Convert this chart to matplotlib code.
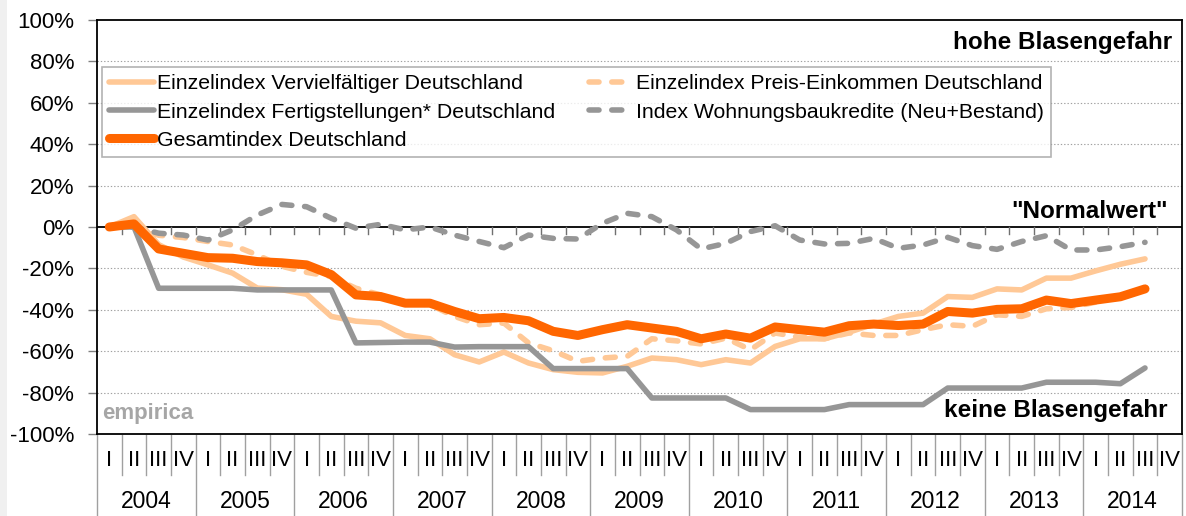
import matplotlib
matplotlib.use("Agg")
import matplotlib.pyplot as plt
import matplotlib.transforms as mtransforms
from matplotlib.patches import Rectangle

plt.rcParams['font.family'] = ['Liberation Sans', 'DejaVu Sans']

# ---------------- data ----------------
years = ["2004", "2005", "2006", "2007", "2008", "2009", "2010", "2011", "2012", "2013", "2014"]
quarter_labels = ["I", "II", "III", "IV"]

vervielfaeltiger = [0, 5, -8.5, -14.5, -18.3, -22.3, -29.5, -30.3, -32.5, -43.2, -45.5, -46.3,
                    -52.4, -54, -61.7, -65.2, -60.4, -65.7, -68.9, -70.2, -70.5, -67.3, -63.3,
                    -64.1, -66.5, -64.1, -65.7, -57.7, -54, -54, -50.8, -46.9, -43.2, -41.6,
                    -33.6, -34, -29.9, -30.4, -24.7, -24.7, -21.2, -18, -15.4]
preis_einkommen = [0, 1, -4, -5.1, -7, -8.7, -13.5, -19, -21.9, -24, -29.6, -32.8, -36.8, -37.5,
                   -43.2, -47.2, -46.4, -56, -59.8, -64.9, -63.3, -62.5, -54, -55, -56.5, -53.7,
                   -59.3, -51.2, -53.3, -54, -51.2, -52.4, -52.4, -49.6, -47.2, -48, -42.4,
                   -43.2, -39.5, -38.9, -36.3, -32.8, -30.4]
fertigstellungen = [0, 0, -29.6, -29.6, -29.6, -29.6, -30.4, -30.4, -30.4, -30.4, -56, -55.8,
                    -55.6, -55.6, -58, -57.8, -57.8, -57.8, -68.4, -68.4, -68.4, -68.4, -82.6,
                    -82.6, -82.6, -82.6, -88.2, -88.2, -88.2, -88.2, -85.8, -85.8, -85.8, -85.8,
                    -77.8, -77.8, -77.8, -77.8, -75, -75, -75, -75.7, -68.1]
wohnungsbaukredite = [0, 0, -3, -3.9, -6.3, -1.4, 5.8, 10.9, 9.8, 4.2, -0.6, 1.3, -1.4, 0, -3.9,
                      -7, -10, -3.9, -5.5, -5.8, 1.8, 6.6, 5, -1.4, -10.6, -7.9, -2.2, 0.6, -6.3,
                      -8.2, -7.9, -5.5, -10.3, -8.7, -5, -9, -10.8, -7, -4.2, -11.1, -11.1, -9.5,
                      -7.4]
gesamtindex = [0, 1.5, -10.6, -12.7, -14.8, -15.1, -16.7, -17.3, -18.3, -23, -32.8, -33.6, -36.8,
               -36.8, -40.8, -44.3, -43.7, -45.3, -50.4, -52.4, -49.6, -47.2, -48.8, -50.4, -54,
               -51.7, -53.7, -48.3, -49.6, -50.8, -47.7, -46.9, -47.6, -46.9, -40.8, -41.6,
               -39.8, -39.5, -35.3, -37, -35.3, -33.7, -29.9]

labels = ["Einzelindex Vervielfältiger Deutschland",
          "Einzelindex Preis-Einkommen Deutschland",
          "Einzelindex Fertigstellungen* Deutschland",
          "Index Wohnungsbaukredite (Neu+Bestand)",
          "Gesamtindex Deutschland"]
yticks = [-100, -80, -60, -40, -20, 0, 20, 40, 60, 80, 100]

# ---------------- figure ----------------
W, H = 1186, 516
fig = plt.figure(figsize=(W / 100, H / 100), dpi=100)
fig.patch.set_facecolor("white")
fig.add_artist(Rectangle((0, 0), 7 / W, 1, transform=fig.transFigure,
                         facecolor="#F0F0F0", edgecolor="none", zorder=0))

left, right, top, bottom = 97, 1182, 20, 434
ax = fig.add_axes([left / W, 1 - bottom / H, (right - left) / W, (bottom - top) / H])

n_q = len(years) * 4
x = list(range(len(gesamtindex)))

light = "#FFC896"
grey = "#969696"
orange = "#FF6600"

l1, = ax.plot(x, vervielfaeltiger, color=light, lw=4.0, solid_capstyle="round",
              solid_joinstyle="round", zorder=3)
l2, = ax.plot(x, preis_einkommen, color=light, lw=4.0, dashes=(1.8, 2.3),
              dash_capstyle="round", dash_joinstyle="round", zorder=3)
l3, = ax.plot(x, fertigstellungen, color=grey, lw=4.0, solid_capstyle="round",
              solid_joinstyle="round", zorder=3)
l4, = ax.plot(x, wohnungsbaukredite, color=grey, lw=4.0, dashes=(1.8, 2.3),
              dash_capstyle="round", dash_joinstyle="round", zorder=3)
l5, = ax.plot(x, gesamtindex, color=orange, lw=6.5, solid_capstyle="round",
              solid_joinstyle="round", zorder=4)

ax.set_xlim(-0.5, n_q - 0.5)
ax.set_ylim(-100, 100)

# gridlines
for v in yticks[1:-1]:
    if v == 0:
        continue
    ax.axhline(v, color="#A0A0A0", lw=0.8, linestyle=(0, (1.2, 1.8)), zorder=1)
ax.axhline(0, color="black", lw=1.3, zorder=2)
# tick marks at zero line
for k in range(1, n_q):
    ax.plot([k - 0.5, k - 0.5], [0, -3.3], color="#707070", lw=1.0, zorder=2)

for sp in ax.spines.values():
    sp.set_color("black")
    sp.set_linewidth(1.3)

ax.set_yticks(yticks)
ax.set_yticklabels([f"{v}%" for v in yticks], fontsize=16)
ax.tick_params(axis="y", direction="out", length=6.5, width=1.0, color="#808080", pad=10)
ax.set_xticks([])

# category table below axes
trans = mtransforms.blended_transform_factory(ax.transData, ax.transAxes)
ax_h = bottom - top
def ay(py):
    return (bottom - py) / ax_h

for k in range(n_q + 1):
    xb = k - 0.5
    if k % 4 == 0:
        ax.plot([xb, xb], [ay(435), ay(H)], color="#A0A0A0", lw=1.0, transform=trans, clip_on=False)
    else:
        ax.plot([xb, xb], [ay(435), ay(475)], color="#A0A0A0", lw=1.0, transform=trans, clip_on=False)
for k in range(n_q):
    ax.text(k, ay(461), quarter_labels[k % 4], transform=trans, ha="center", va="center",
            fontsize=16, clip_on=False)
for j, yr in enumerate(years):
    ax.text(j * 4 + 1.5, ay(502), yr, transform=trans, ha="center", va="center",
            fontsize=16.5, clip_on=False)

# annotations
ax.text((1172 - left) / (right - left), ay(42), "hohe Blasengefahr", transform=ax.transAxes,
        ha="right", va="center", fontsize=17.5, fontweight="bold")
ax.text((1168 - left) / (right - left), ay(211), "\"Normalwert\"", transform=ax.transAxes,
        ha="right", va="center", fontsize=17.5, fontweight="bold")
ax.text((1168 - left) / (right - left), ay(410), "keine Blasengefahr", transform=ax.transAxes,
        ha="right", va="center", fontsize=17.5, fontweight="bold", zorder=5)
ax.text((102 - left) / (right - left), ay(414), "empirica", transform=ax.transAxes,
        ha="left", va="center", fontsize=16, fontweight="bold", color="#A6A6A6")

# legend (row-major order via column-major fill)
handles = [l1, l3, l5, l2, l4]
leg_labels = [labels[0], labels[2], labels[4], labels[1], labels[3]]
leg = ax.legend(handles, leg_labels, ncol=2, loc="upper left",
                bbox_to_anchor=((102 - left) / (right - left), ay(67)),
                borderaxespad=0, fontsize=15.3, frameon=True, fancybox=False,
                edgecolor="#A0A0A0", handlelength=2.1, handletextpad=0.12,
                columnspacing=1.6, labelspacing=0.43, borderpad=0.35)
leg.get_frame().set_linewidth(1.2)
leg.set_zorder(6)

fig.savefig("out.png", dpi=100)
